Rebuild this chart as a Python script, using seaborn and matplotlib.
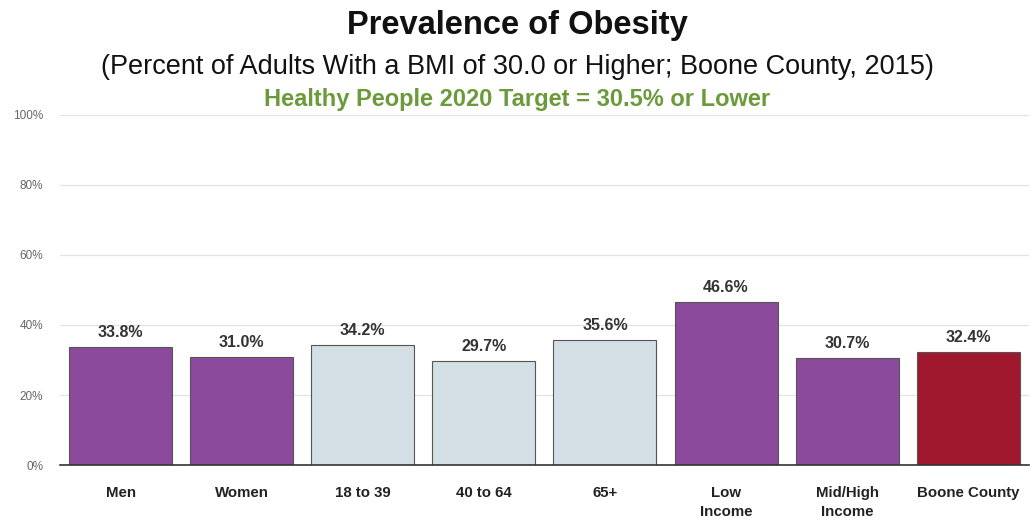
import matplotlib
matplotlib.use("Agg")
import matplotlib.pyplot as plt
import seaborn as sns
import pandas as pd

categories = ["Men", "Women", "18 to 39", "40 to 64", "65+", "Low\nIncome", "Mid/High\nIncome", "Boone County"]
values = [33.8, 31.0, 34.2, 29.7, 35.6, 46.6, 30.7, 32.4]
bar_colors = ["#8B4A9B", "#8B4A9B", "#D3DFE4", "#D3DFE4", "#D3DFE4", "#8B4A9B", "#8B4A9B", "#A0182E"]
y_ticks = [0, 20, 40, 60, 80, 100]
y_tick_labels = ["0%", "20%", "40%", "60%", "80%", "100%"]

sns.set_style("white")
plt.rcParams["font.family"] = ["Liberation Sans", "DejaVu Sans"]

df = pd.DataFrame({"category": categories, "value": values})

fig = plt.figure(figsize=(10.34, 5.22), dpi=100)
ax = fig.add_axes([0.058, 0.109, 0.937, 0.671])

sns.barplot(data=df, x="category", y="value", hue="category", palette=bar_colors,
            legend=False, width=0.85, edgecolor="#555555", linewidth=0.8, ax=ax, saturation=1)

ax.set_ylim(0, 100)
ax.set_yticks(y_ticks)
ax.set_yticklabels(y_tick_labels, fontsize=8.5, color="#666666")
ax.yaxis.grid(True, color="#e3e3e3", linewidth=0.9)
ax.set_axisbelow(True)
ax.set_xlabel("")
ax.set_ylabel("")
for s in ["top", "right", "left"]:
    ax.spines[s].set_visible(False)
ax.spines["bottom"].set_color("#333333")
ax.spines["bottom"].set_linewidth(1.2)
ax.tick_params(axis="x", length=0, pad=15)
ax.tick_params(axis="y", length=0, pad=12)
for lbl in ax.get_xticklabels():
    lbl.set_fontweight("bold")
    lbl.set_fontsize(10.8)
    lbl.set_color("#222222")
    lbl.set_linespacing(1.5)

for i, v in enumerate(values):
    ax.text(i, v + 2.0, f"{v:.1f}%", ha="center", va="bottom", fontsize=11.5,
            fontweight="bold", color="#333333")

fig.text(0.5, 0.952, "Prevalence of Obesity", ha="center", va="center",
         fontsize=23.5, fontweight="bold", color="#111111")
fig.text(0.5, 0.872, "(Percent of Adults With a BMI of 30.0 or Higher; Boone County, 2015)",
         ha="center", va="center", fontsize=19.5, color="#111111")
fig.text(0.5, 0.810, "Healthy People 2020 Target = 30.5% or Lower", ha="center", va="center",
         fontsize=17, fontweight="bold", color="#6B9A3A")

fig.savefig("out.png", dpi=100)
